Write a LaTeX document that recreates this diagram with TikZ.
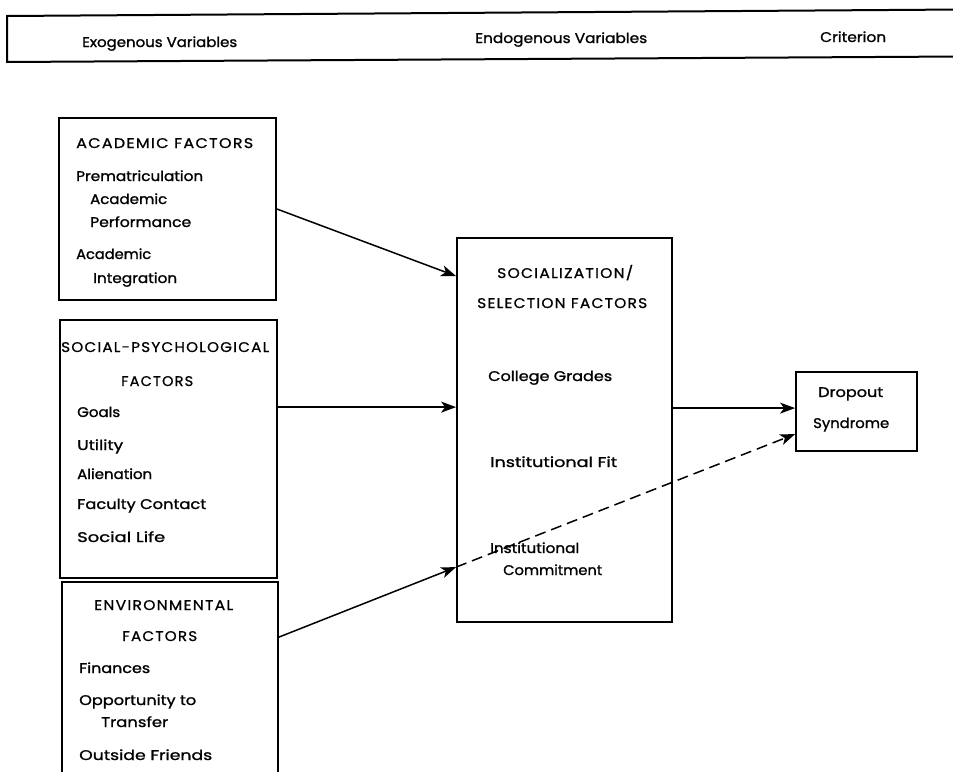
\documentclass[tikz,border=0pt]{standalone}
\usepackage{fontspec}
\usepackage{graphicx}
\setmainfont{Poppins}
\newfontfamily\lett[FakeBold=1.2]{Poppins}
\newfontfamily\lettcaps[LetterSpace=8,FakeBold=0.8]{Poppins}
\usetikzlibrary{arrows.meta,calc}
% set a word at a given width (in pt), keeping its height
\newcommand\fw[2]{\resizebox{#1pt}{\height}{#2}}

\begin{document}
\begin{tikzpicture}[x=1pt,y=-1pt,
  box/.style={draw, line width=1.8pt, inner sep=0pt},
  lbl/.style={anchor=base west, inner sep=0pt, font=\lett\fontsize{14}{16}\selectfont},
  caps/.style={anchor=base west, inner sep=0pt, font=\lettcaps\fontsize{14}{16}\selectfont},
  arr/.style={-{Stealth[length=15pt,width=11pt,inset=4pt]}, line width=1.5pt},
  dasharr/.style={arr, dash pattern=on 11pt off 6pt},
  band/.style={line width=2pt}]
\useasboundingbox (0,0) rectangle (953,771);

% header band
\draw[band] (962,9.5) -- (7,16) -- (7,62) -- (962,56.5);
\node[lbl] (hexo)  at (82,47)  {\fw{155}{Exogenous Variables}};
\node[lbl] (hendo) at (475,43) {\fw{172}{Endogenous Variables}};
\node[lbl] (hcrit) at (820,42) {\fw{66}{Criterion}};

% boxes
\node[box, minimum width=217pt, minimum height=182pt] (acad) at (167.5,209) {};
\node[box, minimum width=217pt, minimum height=258pt] (soc)  at (168.5,449) {};
\node[box, minimum width=216pt, minimum height=218pt] (env)  at (170,691) {};
\node[box, minimum width=215pt, minimum height=384pt] (sel)  at (564.5,430) {};
\node[box, minimum width=121pt, minimum height=79pt]  (drop) at (856.5,411.5) {};

% academic factors
\node[caps] (a0) at (76,148)  {\fw{177}{ACADEMIC FACTORS}};
\node[lbl]  (a1) at (76,181)  {\fw{127}{Prematriculation}};
\node[lbl]  (a2) at (90,204)  {\fw{77}{Academic}};
\node[lbl]  (a3) at (90,227)  {\fw{101}{Performance}};
\node[lbl]  (a4) at (76,259)  {\fw{75}{Academic}};
\node[lbl]  (a5) at (93,283)  {\fw{84}{Integration}};

% social-psychological factors
\node[caps] (s0) at (61,352)  {\fw{208}{SOCIAL-PSYCHOLOGICAL}};
\node[caps] (s1) at (121,386) {\fw{72}{FACTORS}};
\node[lbl]  (s2) at (77,417)  {\fw{43}{Goals}};
\node[lbl]  (s3) at (77,450)  {\fw{46}{Utility}};
\node[lbl]  (s4) at (77,479)  {\fw{75}{Alienation}};
\node[lbl]  (s5) at (77,509)  {\fw{129}{Faculty Contact}};
\node[lbl]  (s6) at (77,542)  {\fw{88}{Social Life}};

% environmental factors
\node[caps] (e0) at (94,610)  {\fw{139}{ENVIRONMENTAL}};
\node[caps] (e1) at (122,641) {\fw{75}{FACTORS}};
\node[lbl]  (e2) at (79,673)  {\fw{71}{Finances}};
\node[lbl]  (e3) at (79,705)  {\fw{117}{Opportunity to}};
\node[lbl]  (e4) at (101,727) {\fw{67}{Transfer}};
\node[lbl]  (e5) at (79,760)  {\fw{133}{Outside Friends}};

% socialization / selection factors
\node[caps] (c0) at (497,278) {\fw{136}{SOCIALIZATION/}};
\node[caps] (c1) at (477,308) {\fw{170}{SELECTION FACTORS}};
\node[lbl]  (c2) at (488,381) {\fw{124}{College Grades}};
\node[lbl]  (c3) at (490,467) {\fw{127}{Institutional Fit}};
\node[lbl]  (c4) at (490,553) {\fw{89}{Institutional}};
\node[lbl]  (c5) at (503,575) {\fw{99}{Commitment}};

% criterion
\node[lbl] (d0) at (818,397) {\fw{65}{Dropout}};
\node[lbl] (d1) at (813,428) {\fw{76}{Syndrome}};

% connector end points on the box sides
\coordinate (inA) at ($(sel.north west)+(0,39)$);
\coordinate (inS) at ($(sel.north west)+(0,170)$);
\coordinate (inE) at ($(sel.north west)+(0,330)$);
\coordinate (outS) at ($(soc.north east)+(0,88)$);
\coordinate (outE) at ($(env.north east)+(0,56)$);
\coordinate (dIn1) at ($(drop.north west)+(0,37)$);
\coordinate (dIn2) at ($(drop.north west)+(0,63)$);

% connectors
\draw[arr] (acad.east) -- (inA);
\draw[arr] (outS) -- (inS);
\draw[arr] (outE) -- (inE);
\draw[arr] (sel.east |- dIn1) -- (dIn1);
\draw[dasharr] (inE) -- (dIn2);
\end{tikzpicture}
\end{document}
